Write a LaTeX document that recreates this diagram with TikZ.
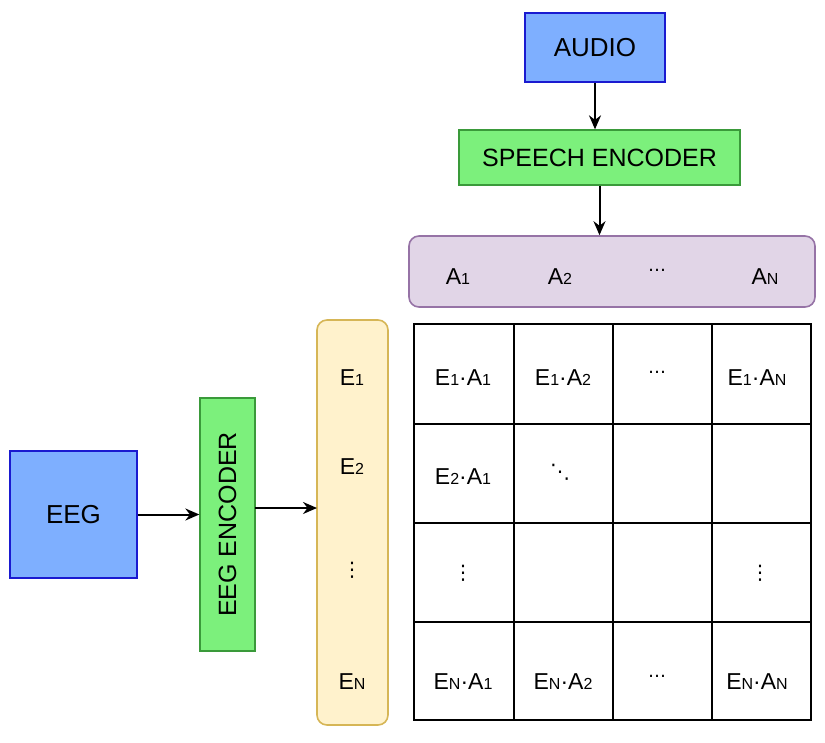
\documentclass[tikz,border=0pt]{standalone}
\usepackage{fontspec}
\setmainfont{Liberation Sans}
\newfontfamily\dejavu{DejaVu Sans}
\usetikzlibrary{arrows.meta}
\definecolor{bluef}{HTML}{7EAFFF}\definecolor{blued}{HTML}{1A1AD0}
\definecolor{greenf}{HTML}{7CF07C}\definecolor{greend}{HTML}{3A9A3A}
\definecolor{purf}{HTML}{E1D5E7}\definecolor{purd}{HTML}{9673A6}
\definecolor{yelf}{HTML}{FFF2CC}\definecolor{yeld}{HTML}{D6B656}
\newcommand{\smsub}[1]{{\fontsize{16}{16}\selectfont #1}}
\newcommand{\hdots}{{\dejavu\fontsize{18}{18}\selectfont …}}
\newcommand{\vdts}{{\dejavu\fontsize{20}{20}\selectfont ⋮}}
\newcommand{\ddts}{{\dejavu\fontsize{20}{20}\selectfont ⋱}}
\begin{document}
\begin{tikzpicture}[x=1pt,y=-1pt,
  blue/.style={draw=blued,fill=bluef,line width=1.6pt,font=\fontsize{26}{26}\selectfont},
  green/.style={draw=greend,fill=greenf,line width=1.3pt,font=\fontsize{25}{25}\selectfont},
  lab/.style={font=\fontsize{23}{23}\selectfont,inner sep=0},
  arr/.style={-{Stealth[length=14pt,width=12pt]},line width=2pt}]
\useasboundingbox (0,0) rectangle (825,742);
\node[blue,minimum width=140pt,minimum height=69pt] (audio) at (595,47.5) {AUDIO};
\node[green,minimum width=281pt,minimum height=55pt] (speech) at (599.5,157.5) {SPEECH ENCODER};
\node[draw=purd,fill=purf,line width=1.6pt,rounded corners=10pt,minimum width=406pt,minimum height=71pt] (aud) at (612,271.5) {};
\node[blue,minimum width=127pt,minimum height=127pt] (eeg) at (73.5,514.5) {EEG};
\node[green,minimum width=55pt,minimum height=253pt] (eegenc) at (227.5,524.5) {};
\node[rotate=90,font=\fontsize{25}{25}\selectfont] (eegenctxt) at (eegenc) {EEG ENCODER};
\node[draw=yeld,fill=yelf,line width=1.6pt,rounded corners=10pt,minimum width=71pt,minimum height=405pt] (eemb) at (352.5,522.5) {};
\draw[line width=2pt] (414,324) rectangle (811,720);
\foreach \x in {514,613,712} \draw[line width=2pt] (\x,324) -- (\x,720);
\foreach \y in {424,523,622} \draw[line width=2pt] (414,\y) -- (811,\y);
\draw[arr] (audio.south) -- (audio.south |- speech.north);
\draw[arr] (speech.south) -- (speech.south |- aud.north);
\draw[arr] (eeg.east) -- (eeg.east -| eegenc.west);
\coordinate (e1) at (255,508); \coordinate (e2) at (317,508);
\draw[arr] (e1) -- (e2);
\node[lab] (a1) at (458,277) {A\smsub{1}};
\node[lab] (a2) at (560,277) {A\smsub{2}};
\node[lab] (ad) at (657,270) {\hdots};
\node[lab] (an) at (765,277) {A\smsub{N}};
\node[lab] (ee1) at (352,378) {E\smsub{1}};
\node[lab] (ee2) at (352,467) {E\smsub{2}};
\node[lab] (eed) at (352,570) {\vdts};
\node[lab] (een) at (352,682) {E\smsub{N}};
\node[lab] (c11) at (463,378) {E\smsub{1}·A\smsub{1}};
\node[lab] (c12) at (563,378) {E\smsub{1}·A\smsub{2}};
\node[lab] (c1d) at (657,372) {\hdots};
\node[lab] (c1n) at (757,378) {E\smsub{1}·A\smsub{N}};
\node[lab] (c21) at (463,477) {E\smsub{2}·A\smsub{1}};
\node[lab] (c22) at (560,472) {\ddts};
\node[lab] (c31) at (463,573) {\vdts};
\node[lab] (c3n) at (760,573) {\vdts};
\node[lab] (cn1) at (463,682) {E\smsub{N}·A\smsub{1}};
\node[lab] (cn2) at (563,682) {E\smsub{N}·A\smsub{2}};
\node[lab] (cnd) at (657,676) {\hdots};
\node[lab] (cnn) at (757,682) {E\smsub{N}·A\smsub{N}};
\end{tikzpicture}
\end{document}
